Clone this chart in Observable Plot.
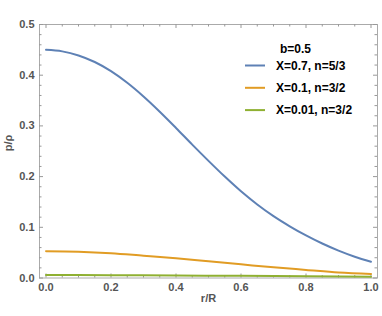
<!DOCTYPE html>
<html>
<head>
<meta charset="utf-8">
<script src="https://cdn.jsdelivr.net/npm/d3@7"></script>
<script src="https://cdn.jsdelivr.net/npm/@observablehq/plot@0.6"></script>
<style>
  html, body { margin: 0; padding: 0; background: #fff; }
  #chart svg { display: block; }
</style>
</head>
<body>
<div id="chart"></div>
<script>
// ---- data ----
const blueR = [0, 0.05, 0.1, 0.15, 0.2, 0.25, 0.3, 0.35, 0.4, 0.45, 0.5, 0.55, 0.6, 0.65, 0.7, 0.75, 0.8, 0.85, 0.9, 0.95, 1.0];
const blueP = [0.450, 0.447, 0.439, 0.426, 0.408, 0.385, 0.358, 0.328, 0.296, 0.263, 0.231, 0.200, 0.171, 0.145, 0.122, 0.102, 0.084, 0.068, 0.054, 0.042, 0.032];
const orangeR = [0, 0.1, 0.2, 0.3, 0.4, 0.5, 0.6, 0.7, 0.8, 0.9, 1.0];
const orangeP = [0.053, 0.052, 0.049, 0.044, 0.039, 0.033, 0.027, 0.021, 0.016, 0.011, 0.008];
const greenR = [0, 0.2, 0.4, 0.6, 0.8, 1.0];
const greenP = [0.0058, 0.0055, 0.0050, 0.0042, 0.0034, 0.0027];
const seriesNames = ["X=0.7, n=5/3", "X=0.1, n=3/2", "X=0.01, n=3/2"];
const seriesColors = ["#5E81B5", "#E19C24", "#8FB032"];
const legendTitle = "b=0.5";
const xMajor = [0, 0.2, 0.4, 0.6, 0.8, 1.0];
const xMinor = [0.05, 0.1, 0.15, 0.25, 0.3, 0.35, 0.45, 0.5, 0.55, 0.65, 0.7, 0.75, 0.85, 0.9, 0.95];
const yMajor = [0, 0.1, 0.2, 0.3, 0.4, 0.5];
const yMinor = [0.02, 0.04, 0.06, 0.08, 0.12, 0.14, 0.16, 0.18, 0.22, 0.24, 0.26, 0.28, 0.32, 0.34, 0.36, 0.38, 0.42, 0.44, 0.46, 0.48];
const xLabel = "r/R";
const yLabel = "p/ρ";

const xDomain = [-0.02, 1.02];
const yDomain = [0, 0.5];

const toRows = (rs, ps, name) => rs.map((r, i) => ({r, p: ps[i], name}));
const rows = [
  ...toRows(blueR, blueP, seriesNames[0]),
  ...toRows(orangeR, orangeP, seriesNames[1]),
  ...toRows(greenR, greenP, seriesNames[2])
];

const tickColor = "#999";
const font = "'Liberation Sans', Arial, sans-serif";
// tick lengths expressed in data units (pixels / scale)
const W = 382, H = 316, mL = 39, mR = 5, mT = 24, mB = 38.5;
const pxX = (xDomain[1] - xDomain[0]) / (W - mL - mR);
const pxY = (yDomain[1] - yDomain[0]) / (H - mT - mB);

const plot = Plot.plot({
  width: W, height: H,
  marginLeft: mL, marginRight: mR, marginTop: mT, marginBottom: mB,
  style: {fontFamily: font, fontSize: "11px", background: "#fff"},
  x: {domain: xDomain},
  y: {domain: yDomain},
  color: {domain: seriesNames, range: seriesColors},
  marks: [
    Plot.frame({stroke: "#aaa"}),
    // inward ticks: bottom & top
    Plot.ruleX(xMajor, {x: d => d, y1: yDomain[0], y2: yDomain[0] + 4 * pxY, stroke: tickColor}),
    Plot.ruleX(xMinor, {x: d => d, y1: yDomain[0], y2: yDomain[0] + 2.5 * pxY, stroke: tickColor}),
    Plot.ruleX(xMajor, {x: d => d, y1: yDomain[1], y2: yDomain[1] - 4 * pxY, stroke: tickColor}),
    Plot.ruleX(xMinor, {x: d => d, y1: yDomain[1], y2: yDomain[1] - 2.5 * pxY, stroke: tickColor}),
    // inward ticks: left & right
    Plot.ruleY(yMajor, {y: d => d, x1: xDomain[0], x2: xDomain[0] + 4 * pxX, stroke: tickColor}),
    Plot.ruleY(yMinor, {y: d => d, x1: xDomain[0], x2: xDomain[0] + 2.5 * pxX, stroke: tickColor}),
    Plot.ruleY(yMajor, {y: d => d, x1: xDomain[1], x2: xDomain[1] - 4 * pxX, stroke: tickColor}),
    Plot.ruleY(yMinor, {y: d => d, x1: xDomain[1], x2: xDomain[1] - 2.5 * pxX, stroke: tickColor}),
    Plot.axisX({ticks: xMajor, tickSize: 0, tickPadding: 5, tickFormat: d3.format(".1f"), label: null,
      fill: "#555", fontWeight: "bold"}),
    Plot.axisY({ticks: yMajor, tickSize: 0, tickPadding: 5, tickFormat: d3.format(".1f"), label: null,
      fill: "#555", fontWeight: "bold"}),
    Plot.lineY(rows, {x: "r", y: "p", stroke: "name", strokeWidth: 2, curve: "monotone-x"}),
    Plot.text([xLabel], {frameAnchor: "bottom", dy: 24, fill: "#555", fontWeight: "bold", fontSize: 11}),
    Plot.text([yLabel], {frameAnchor: "left", dx: -31, rotate: -90, fill: "#555", fontWeight: "bold", fontSize: 11})
  ]
});

document.getElementById("chart").appendChild(plot);

// legend inside the plot area
const svg = d3.select(plot);
const lg = svg.append("g").attr("font-family", font).attr("font-weight", "bold")
  .attr("font-size", 12).attr("text-anchor", "start");
lg.append("text").attr("x", 280).attr("y", 53).attr("fill", "#000").text(legendTitle);
seriesNames.forEach((name, i) => {
  const cy = 65.5 + i * 22.3;
  lg.append("line").attr("x1", 245).attr("x2", 265).attr("y1", cy).attr("y2", cy)
    .attr("stroke", seriesColors[i]).attr("stroke-width", 2);
  lg.append("text").attr("x", 276).attr("y", cy + 4.3).attr("fill", "#000").text(name);
});
</script>
</body>
</html>
